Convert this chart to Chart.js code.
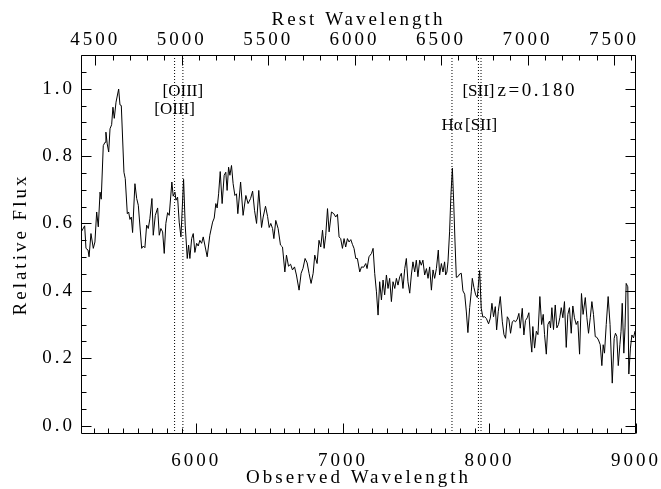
<!DOCTYPE html>
<html>
<head>
<meta charset="utf-8">
<script src="https://cdn.jsdelivr.net/npm/chart.js@4.4.1/dist/chart.umd.min.js"></script>
<style>
  html, body { margin: 0; padding: 0; background: #fff; }
  canvas { display: block; }
</style>
</head>
<body>
<canvas id="spec" width="661" height="489"></canvas>
<script>
// Spectrum of the source at z = 0.180, relative flux vs observed wavelength (Angstrom)
const redshift = 0.180;

const obsWavelength = [
  5215, 5238, 5247, 5261, 5268, 5281, 5297, 5308, 5320, 5331, 5343, 5351, 5365, 5377, 5383, 5392,
  5402, 5411, 5422, 5431, 5440, 5452, 5470, 5479, 5488, 5506, 5515, 5529, 5538, 5547, 5556, 5565,
  5581, 5593, 5604, 5627, 5638, 5649, 5661, 5672, 5683, 5697, 5706, 5720, 5736, 5747, 5758, 5770,
  5781, 5792, 5804, 5815, 5833, 5842, 5854, 5861, 5872, 5883, 5895, 5913, 5924, 5938, 5947, 5956,
  5968, 5979, 5990, 6002, 6013, 6024, 6036, 6047, 6058, 6074, 6092, 6111, 6122, 6133, 6142, 6152,
  6163, 6176, 6190, 6201, 6210, 6220, 6229, 6240, 6251, 6263, 6274, 6283, 6302, 6319, 6338, 6353,
  6370, 6384, 6397, 6411, 6426, 6445, 6456, 6472, 6486, 6497, 6508, 6520, 6529, 6542, 6558, 6574,
  6588, 6604, 6615, 6629, 6643, 6656, 6670, 6683, 6701, 6715, 6728, 6742, 6756, 6769, 6783, 6797,
  6808, 6824, 6837, 6849, 6861, 6872, 6883, 6895, 6906, 6922, 6938, 6951, 6963, 6974, 6985, 6997,
  7008, 7019, 7031, 7042, 7054, 7065, 7076, 7088, 7099, 7115, 7127, 7142, 7156, 7165, 7178, 7195,
  7206, 7217, 7229, 7240, 7251, 7263, 7274, 7285, 7297, 7308, 7319, 7331, 7342, 7354, 7365, 7376,
  7388, 7399, 7410, 7422, 7433, 7444, 7456, 7467, 7478, 7490, 7501, 7512, 7524, 7535, 7546, 7558,
  7570, 7581, 7592, 7604, 7615, 7626, 7638, 7651, 7660, 7672, 7683, 7694, 7701, 7710, 7717, 7728,
  7737, 7747, 7756, 7765, 7774, 7785, 7797, 7808, 7819, 7831, 7842, 7853, 7865, 7876, 7883, 7894,
  7906, 7917, 7933, 7944, 7955, 7967, 7979, 7994, 8006, 8017, 8028, 8040, 8049, 8060, 8074, 8088,
  8099, 8110, 8122, 8133, 8144, 8156, 8167, 8178, 8190, 8201, 8210, 8224, 8235, 8246, 8258, 8269,
  8280, 8289, 8296, 8308, 8320, 8331, 8344, 8356, 8367, 8376, 8388, 8399, 8410, 8417, 8426, 8437,
  8449, 8460, 8471, 8480, 8490, 8501, 8512, 8524, 8535, 8546, 8558, 8569, 8580, 8592, 8603, 8615,
  8628, 8639, 8654, 8665, 8676, 8688, 8699, 8710, 8722, 8733, 8744, 8756, 8767, 8776, 8785, 8797,
  8810, 8823, 8838, 8851, 8860, 8869, 8879, 8890, 8898, 8906, 8917, 8925, 8933, 8944, 8951, 8962,
  8972, 8983, 8993, 9003
];

const relFlux = [
  0.575, 0.593, 0.526, 0.521, 0.501, 0.570, 0.526, 0.545, 0.634, 0.590, 0.693, 0.672, 0.831, 0.841, 0.871, 0.836,
  0.812, 0.881, 0.893, 0.945, 0.912, 0.960, 0.999, 0.952, 0.950, 0.752, 0.733, 0.629, 0.634, 0.612, 0.619, 0.573,
  0.718, 0.674, 0.654, 0.526, 0.533, 0.528, 0.595, 0.585, 0.614, 0.674, 0.565, 0.624, 0.646, 0.565, 0.585, 0.575,
  0.511, 0.600, 0.632, 0.624, 0.723, 0.681, 0.693, 0.669, 0.678, 0.604, 0.560, 0.731, 0.595, 0.496, 0.536, 0.496,
  0.555, 0.570, 0.514, 0.541, 0.533, 0.550, 0.541, 0.560, 0.536, 0.501, 0.565, 0.604, 0.616, 0.659, 0.646, 0.688,
  0.754, 0.659, 0.743, 0.752, 0.698, 0.767, 0.743, 0.772, 0.718, 0.683, 0.688, 0.629, 0.723, 0.624, 0.683, 0.659,
  0.674, 0.696, 0.639, 0.600, 0.698, 0.588, 0.619, 0.651, 0.621, 0.588, 0.600, 0.585, 0.555, 0.609, 0.585, 0.536,
  0.530, 0.456, 0.506, 0.473, 0.479, 0.462, 0.471, 0.447, 0.402, 0.452, 0.467, 0.496, 0.483, 0.452, 0.422, 0.452,
  0.506, 0.481, 0.550, 0.530, 0.580, 0.526, 0.565, 0.644, 0.575, 0.634, 0.629, 0.619, 0.627, 0.560, 0.555, 0.526,
  0.555, 0.530, 0.555, 0.545, 0.552, 0.538, 0.526, 0.496, 0.496, 0.456, 0.471, 0.470, 0.481, 0.466, 0.501, 0.511,
  0.526, 0.452, 0.397, 0.328, 0.427, 0.373, 0.432, 0.388, 0.447, 0.407, 0.437, 0.368, 0.427, 0.407, 0.437, 0.417,
  0.442, 0.452, 0.407, 0.466, 0.496, 0.427, 0.393, 0.447, 0.486, 0.456, 0.491, 0.442, 0.491, 0.476, 0.491, 0.447,
  0.466, 0.437, 0.471, 0.402, 0.462, 0.437, 0.466, 0.521, 0.447, 0.481, 0.456, 0.486, 0.447, 0.456, 0.486, 0.575,
  0.683, 0.764, 0.664, 0.545, 0.440, 0.442, 0.450, 0.452, 0.400, 0.390, 0.340, 0.276, 0.350, 0.397, 0.437, 0.410,
  0.388, 0.380, 0.460, 0.348, 0.322, 0.323, 0.318, 0.302, 0.319, 0.363, 0.323, 0.353, 0.284, 0.338, 0.383, 0.308,
  0.270, 0.259, 0.323, 0.314, 0.274, 0.308, 0.312, 0.308, 0.316, 0.333, 0.289, 0.348, 0.269, 0.312, 0.320, 0.335,
  0.260, 0.218, 0.294, 0.230, 0.280, 0.270, 0.383, 0.300, 0.330, 0.270, 0.212, 0.300, 0.310, 0.290, 0.350, 0.285,
  0.358, 0.290, 0.300, 0.320, 0.350, 0.320, 0.368, 0.232, 0.330, 0.350, 0.274, 0.355, 0.320, 0.300, 0.310, 0.212,
  0.392, 0.330, 0.380, 0.320, 0.274, 0.320, 0.368, 0.330, 0.264, 0.262, 0.254, 0.240, 0.178, 0.240, 0.215, 0.300,
  0.383, 0.300, 0.126, 0.259, 0.274, 0.265, 0.178, 0.240, 0.280, 0.363, 0.215, 0.290, 0.422, 0.412, 0.153, 0.230,
  0.269, 0.260, 0.280, 0.275
];

// Emission lines marked with dotted verticals (rest-frame Angstrom)
const restLines = [4959, 5007, 6563, 6716, 6731];

// Line identifications: rest wavelength the label is centred on, and flux level of its baseline
const lineLabels = [
  { text: '[OIII]', rest: 5007, level: 0.979 },
  { text: '[OIII]', rest: 4959, level: 0.925 },
  { text: '[SII]',  rest: 6716, level: 0.979 },
  { text: 'H\u03B1', rest: 6563, level: 0.876 },
  { text: '[SII]',  rest: 6731, level: 0.876 }
];

const obsTicks  = [6000, 7000, 8000, 9000];
const restTicks = [4500, 5000, 5500, 6000, 6500, 7000, 7500];
const fluxTicks = [0.0, 0.2, 0.4, 0.6, 0.8, 1.0];

const X_MIN = 5213, X_MAX = 9000;
const Y_MIN = -0.025, Y_MAX = 1.1;

const SERIF = "'Liberation Serif', 'DejaVu Serif', serif";
const axisFont = { family: SERIF, size: 19, lineHeight: 1.2 };
const WIDE = '3px';

// Spaced-out lettering for the axes, in the style of vector plot fonts
const wideLettering = {
  id: 'wideLettering',
  beforeDraw(chart) { chart.ctx.letterSpacing = WIDE; }
};

// Box frame with inward major/minor tick marks on all four sides
const frameTicks = {
  id: 'frameTicks',
  afterDatasetsDraw(chart) {
    const { ctx, chartArea: a, scales } = chart;
    const L = a.left + 0.5, R = a.right - 0.5, T = a.top + 0.5, B = a.bottom - 0.5;
    const MAJ = 10, MIN = 5;
    ctx.save();
    ctx.strokeStyle = '#000';
    ctx.lineWidth = 1;
    ctx.beginPath();
    ctx.rect(L, T, R - L, B - T);
    // bottom: observed wavelength, minor every 100
    for (let v = Math.ceil(X_MIN / 100) * 100; v <= X_MAX; v += 100) {
      const x = Math.round(scales.x.getPixelForValue(v)) + 0.5;
      const len = obsTicks.includes(v) ? MAJ : MIN;
      ctx.moveTo(x, B); ctx.lineTo(x, B - len);
    }
    // top: rest wavelength, minor every 100
    const tMin = X_MIN / (1 + redshift), tMax = X_MAX / (1 + redshift);
    for (let v = Math.ceil(tMin / 100) * 100; v <= tMax; v += 100) {
      const x = Math.round(scales.xTop.getPixelForValue(v)) + 0.5;
      const len = restTicks.includes(v) ? MAJ : MIN;
      ctx.moveTo(x, T); ctx.lineTo(x, T + len);
    }
    // left and right: flux, minor every 0.05
    for (let k = 0; k * 0.05 <= Y_MAX + 1e-9; k++) {
      const v = k * 0.05;
      const y = Math.round(scales.y.getPixelForValue(v)) + 0.5;
      const len = (k % 4 === 0) ? MAJ : MIN;
      ctx.moveTo(L, y); ctx.lineTo(L + len, y);
      ctx.moveTo(R, y); ctx.lineTo(R - len, y);
    }
    ctx.stroke();

    // line identifications
    ctx.fillStyle = '#000';
    ctx.textBaseline = 'alphabetic';
    ctx.letterSpacing = '0px';
    ctx.font = "17px " + SERIF;
    ctx.textAlign = 'center';
    let sEnd = 0;
    lineLabels.forEach((lab, i) => {
      const x = scales.x.getPixelForValue(lab.rest * (1 + redshift));
      const y = scales.y.getPixelForValue(lab.level);
      ctx.fillText(lab.text, x, y);
      if (i === 2) sEnd = x + ctx.measureText(lab.text).width / 2;
    });
    // redshift label following the upper [SII] mark
    ctx.letterSpacing = '2.5px';
    ctx.font = "19px " + SERIF;
    ctx.textAlign = 'left';
    ctx.fillText('z=' + redshift.toFixed(3), sEnd + 3, scales.y.getPixelForValue(lineLabels[2].level));
    ctx.restore();
  }
};

const spectrum = obsWavelength.map((w, i) => ({ x: w, y: relFlux[i] }));
const markerSets = restLines.map(r => ({
  data: [{ x: r * (1 + redshift), y: Y_MIN }, { x: r * (1 + redshift), y: Y_MAX }],
  borderColor: '#000',
  borderWidth: 1,
  borderDash: [1, 2],
  pointRadius: 0,
  fill: false
}));

// Fixed scale boxes so the plot frame sits at a set place in the canvas
const fitHorizontal = s => { s.height = 55; s.paddingLeft = 0; s.paddingRight = 0; };
const fitVertical = s => { s.width = 81; s.paddingTop = 0; s.paddingBottom = 0; };
const noGrid = { display: false, drawTicks: false, tickLength: 0 };

new Chart(document.getElementById('spec'), {
  type: 'line',
  data: {
    datasets: [{
      data: spectrum,
      borderColor: '#000',
      borderWidth: 1,
      pointRadius: 0,
      tension: 0,
      fill: false
    }, ...markerSets]
  },
  options: {
    responsive: false,
    animation: false,
    devicePixelRatio: 1,
    layout: { padding: { right: 25 } },
    plugins: { legend: { display: false }, tooltip: { enabled: false } },
    scales: {
      x: {
        type: 'linear', position: 'bottom', min: X_MIN, max: X_MAX,
        grid: noGrid, border: { display: false },
        afterBuildTicks: s => { s.ticks = obsTicks.map(v => ({ value: v })); },
        afterFit: fitHorizontal,
        ticks: { font: axisFont, color: '#000', padding: 16, maxRotation: 0, autoSkip: false,
                 callback: v => String(v) },
        title: { display: true, text: 'Observed Wavelength', font: axisFont, color: '#000',
                 padding: { top: 0, bottom: 0 } }
      },
      xTop: {
        type: 'linear', position: 'top',
        min: X_MIN / (1 + redshift), max: X_MAX / (1 + redshift),
        grid: noGrid, border: { display: false },
        afterBuildTicks: s => { s.ticks = restTicks.map(v => ({ value: v })); },
        afterFit: fitHorizontal,
        ticks: { font: axisFont, color: '#000', padding: 4, maxRotation: 0, autoSkip: false,
                 callback: v => String(v) },
        title: { display: true, text: 'Rest Wavelength', font: axisFont, color: '#000',
                 padding: { top: 9, bottom: 0 } }
      },
      y: {
        type: 'linear', position: 'left', min: Y_MIN, max: Y_MAX,
        grid: noGrid, border: { display: false },
        afterBuildTicks: s => { s.ticks = fluxTicks.map(v => ({ value: v })); },
        afterFit: fitVertical,
        ticks: { font: axisFont, color: '#000', padding: 6, callback: v => v.toFixed(1) },
        title: { display: true, text: 'Relative Flux', font: axisFont, color: '#000',
                 padding: { top: 10, bottom: 0 } }
      }
    }
  },
  plugins: [wideLettering, frameTicks]
});
</script>
</body>
</html>
